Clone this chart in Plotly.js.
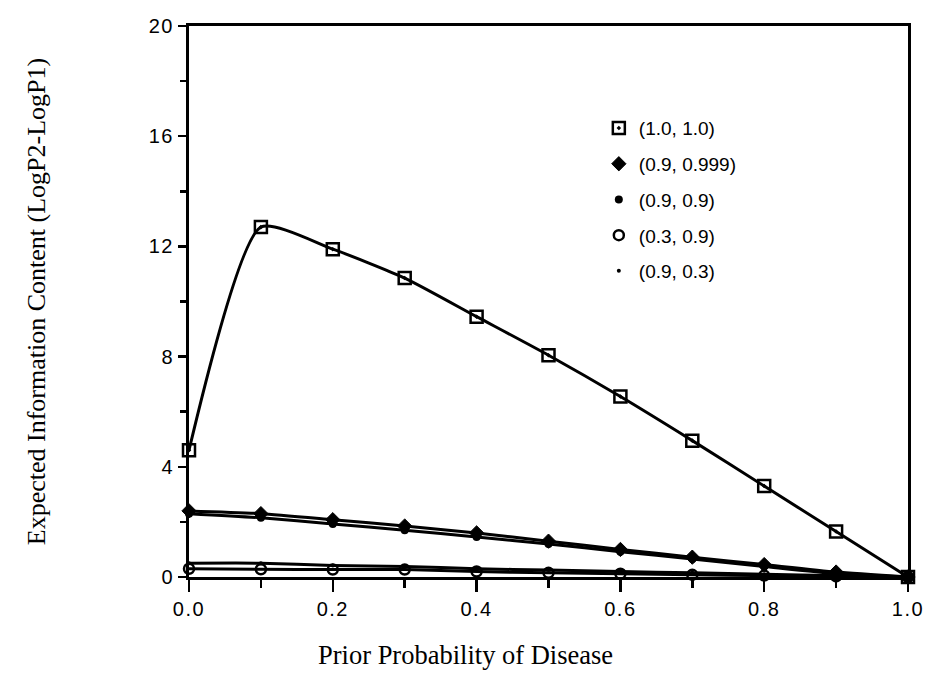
<!DOCTYPE html>
<html>
<head>
<meta charset="utf-8">
<script src="https://cdn.plot.ly/plotly-3.0.1.min.js"></script>
<style>html,body{margin:0;padding:0;background:#fff;}#chart{width:934px;height:699px;}
.xtick text, .ytick text {letter-spacing: 1.5px;}</style>
</head>
<body>
<div id="chart"></div>
<script>
const prior = [0.0, 0.1, 0.2, 0.3, 0.4, 0.5, 0.6, 0.7, 0.8, 0.9, 1.0];
const s_10_10   = [4.6, 12.7, 11.9, 10.85, 9.45, 8.05, 6.55, 4.95, 3.3, 1.65, 0.0];
const s_09_0999 = [2.4, 2.3, 2.08, 1.85, 1.6, 1.3, 1.0, 0.72, 0.45, 0.18, 0.0];
const s_09_09   = [2.3, 2.15, 1.92, 1.7, 1.45, 1.2, 0.92, 0.65, 0.38, 0.12, 0.0];
const s_03_09   = [0.3, 0.28, 0.27, 0.27, 0.2, 0.15, 0.12, 0.08, 0.05, 0.02, 0.0];
const s_09_03   = [0.5, 0.5, 0.42, 0.38, 0.3, 0.25, 0.2, 0.15, 0.1, 0.05, 0.0];
const seriesNames = ["(1.0, 1.0)", "(0.9, 0.999)", "(0.9, 0.9)", "(0.3, 0.9)", "(0.9, 0.3)"];
const xTickVals = [0, 0.2, 0.4, 0.6, 0.8, 1.0];
const xTickText = ["0.0", "0.2", "0.4", "0.6", "0.8", "1.0"];
const yTickVals = [0, 4, 8, 12, 16, 20];
const xTitle = "Prior Probability of Disease";
const yTitle = "Expected Information Content (LogP2-LogP1)";

const seriesData = [s_10_10, s_09_0999, s_09_09, s_03_09, s_09_03];
const markerStyles = [
  {symbol: "square-open-dot", size: 12, color: "#000", line: {width: 2.5, color: "#000"}},
  {symbol: "diamond", size: 11, color: "#000", line: {width: 1, color: "#000"}},
  {symbol: "circle", size: 8, color: "#000"},
  {symbol: "circle-open", size: 10, color: "#000", line: {width: 2.5, color: "#000"}},
  {symbol: "circle", size: 4, color: "#000"}
];
const traces = [];
seriesData.forEach((ys, i) => {
  traces.push({x: prior, y: ys, mode: "lines", type: "scatter",
    line: {color: "#000", width: 3, shape: "spline", smoothing: 0.6},
    showlegend: false, hoverinfo: "skip"});
});
seriesData.forEach((ys, i) => {
  traces.push({x: prior, y: ys, mode: "markers", type: "scatter", name: seriesNames[i],
    marker: markerStyles[i], cliponaxis: false, legendgroup: "g" + i});
});

const serif = "Liberation Serif, Times New Roman, serif";
const layout = {
  width: 934, height: 699,
  margin: {l: 189, r: 26, t: 26, b: 122},
  paper_bgcolor: "#fff", plot_bgcolor: "#fff",
  font: {family: "Liberation Sans, Arial, sans-serif", color: "#000", size: 19},
  showlegend: true,
  legend: {x: 0.57, y: 0.849, xanchor: "left", yanchor: "top", bgcolor: "rgba(0,0,0,0)",
    font: {size: 19, family: "Liberation Sans, Arial, sans-serif"},
    traceorder: "grouped", tracegroupgap: 8, itemwidth: 30},
  xaxis: {range: [0, 1], tickvals: xTickVals, ticktext: xTickText,
    ticks: "outside", ticklen: 12, tickwidth: 2.5, tickcolor: "#000",
    minor: {dtick: 0.1, ticks: "outside", ticklen: 8, tickwidth: 2.5, tickcolor: "#000"},
    showline: true, linewidth: 3, linecolor: "#000", mirror: true,
    showgrid: false, zeroline: false, tickfont: {size: 20}},
  yaxis: {range: [0, 20], tickvals: yTickVals,
    ticks: "outside", ticklen: 8, tickwidth: 2.5, tickcolor: "#000",
    minor: {dtick: 2, ticks: "outside", ticklen: 6, tickwidth: 2.5, tickcolor: "#000"},
    showline: true, linewidth: 3, linecolor: "#000", mirror: true,
    showgrid: false, zeroline: false, tickfont: {size: 20},
    title: {text: yTitle, standoff: 96, font: {family: serif, size: 26}}},
  annotations: [{text: xTitle, xref: "paper", yref: "paper",
    x: (465 - 189) / 719, y: -(655 - 577) / 551, xanchor: "center", yanchor: "middle",
    showarrow: false, font: {family: serif, size: 26.5}}]
};
Plotly.newPlot("chart", traces, layout, {displayModeBar: false, staticPlot: true});
</script>
</body>
</html>
